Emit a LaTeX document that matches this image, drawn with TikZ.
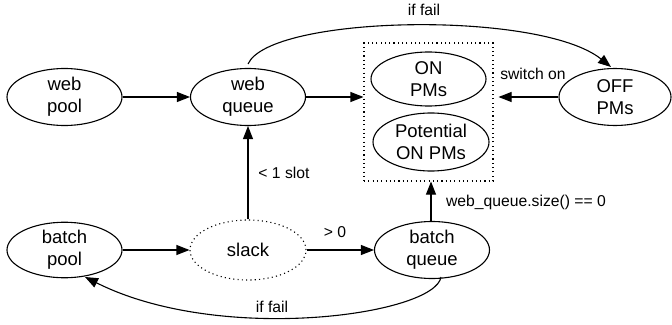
\documentclass[tikz,border=0pt]{standalone}
\usepackage{fontspec}
\setmainfont{Liberation Sans}
\usetikzlibrary{shapes.geometric,arrows.meta}
\begin{document}
\begin{tikzpicture}[x=1pt,y=-1pt,
  every node/.style={inner sep=0pt},
  st/.style={ellipse,draw,line width=1.1pt,minimum width=115pt,minimum height=57pt,align=center,font=\fontsize{18.5}{22}\selectfont},
  dotst/.style={st,dash pattern=on 1.1pt off 3.2pt},
  dotbox/.style={draw,line width=1.1pt,dash pattern=on 1.1pt off 3.2pt,minimum width=129pt,minimum height=138pt},
  lbl/.style={font=\fontsize{15.7}{18}\selectfont},
  arr/.style={line width=1.1pt,-{Triangle[length=13pt,width=10pt]}}
]
\useasboundingbox (0,0) rectangle (672,324);
\node[st] (wp) at (64.5,97) {web\\pool};
\node[st] (wq) at (248,97) {web\\queue};
\node[dotbox] (pms) at (428.5,112) {};
\node[st,minimum width=115pt,minimum height=54pt] (on) at (428.5,79) {ON\\PMs};
\node[st,minimum width=116pt,minimum height=58pt] (pon) at (431,142) {Potential\\ON PMs};
\node[st,minimum width=112pt] (off) at (615,97) {OFF\\PMs};
\node[st,minimum height=54pt] (bp) at (64.5,250) {batch\\pool};
\node[dotst,minimum width=116pt,minimum height=60pt] (sl) at (248,250) {slack};
\node[st] (bq) at (432,250) {batch\\queue};

\draw[arr] (wp) -- (wq);
\draw[arr] (wq.east) -- (wq.east -| pms.west);
\draw[arr,shorten >=5pt] (off.west) -- (off.west -| pms.east);
\draw[arr] (bp) -- (sl);
\draw[arr] (sl) -- (bq);
\draw[arr] (sl) -- (wq);
\draw[arr] ([xshift=-1pt]bq.north) -- ([xshift=-1pt]bq.north |- pms.south);
\coordinate (t0) at (248,64);
\coordinate (t3) at (611,67);
\draw[arr] (t0) .. controls (270,15) and (540,10) .. (t3);
\coordinate (b0) at (441,277);
\coordinate (b3) at (85,277);
\draw[arr] (b0) .. controls (435,315) and (220,345) .. (b3);

\node[lbl] (l1) at (424,10) {if fail};
\node[lbl] (l2) at (533,74) {switch on};
\node[lbl] (l3) at (284,173) {< 1 slot};
\node[lbl] (l4) at (335,232) {> 0};
\node[lbl] (l5) at (526,202) {web\_queue.size() == 0};
\node[lbl] (l6) at (272,307) {if fail};
\end{tikzpicture}
\end{document}
